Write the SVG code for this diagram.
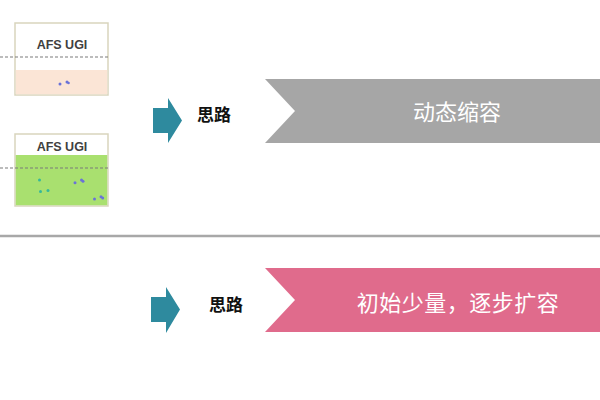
<svg xmlns="http://www.w3.org/2000/svg" width="600" height="400" viewBox="0 0 600 400">
<style>
.box{fill:#ffffff;stroke:#d9d5bd;stroke-width:1.5}
.dash{stroke:#7a7a7a;stroke-width:1.2;stroke-dasharray:3,2}
.lbl{font-family:"Liberation Sans","Noto Sans CJK SC",sans-serif;font-size:12.5px;font-weight:bold;fill:#404040;text-anchor:middle}
.think{font-family:"Noto Sans CJK SC",sans-serif;font-size:17px;font-weight:bold;fill:#111111;text-anchor:middle}
.ban{font-family:"Noto Sans CJK SC",sans-serif;font-size:22px;fill:#ffffff;text-anchor:middle}
.arr{fill:#2e8a9e}
.dg{fill:#36b89a}
.db{fill:#6a72d8}
</style>
<g id="box1">
<rect class="box" x="15" y="23" width="93" height="72"/>
<rect x="15.75" y="70" width="91.5" height="24.25" fill="#fbe5d6"/>
<line class="dash" x1="0" y1="57" x2="108" y2="57"/>
<text class="lbl" x="62" y="49">AFS UGI</text>
<circle class="db" cx="60" cy="84" r="1.5"/>
<circle class="db" cx="67" cy="82" r="1.5"/>
<circle class="db" cx="68.5" cy="83" r="1.3"/>
</g>
<g id="box2">
<rect class="box" x="15" y="134" width="93" height="72"/>
<rect x="15.75" y="155" width="91.5" height="50.25" fill="#a9e06f"/>
<line class="dash" x1="0" y1="168" x2="108" y2="168"/>
<text class="lbl" x="62" y="151">AFS UGI</text>
<circle class="dg" cx="39.5" cy="180" r="1.5"/>
<circle class="dg" cx="40.5" cy="191.5" r="1.5"/>
<circle class="dg" cx="48" cy="190.5" r="1.5"/>
<circle class="db" cx="75" cy="182.7" r="1.5"/>
<circle class="db" cx="81.5" cy="180" r="1.5"/>
<circle class="db" cx="83" cy="181.3" r="1.5"/>
<circle class="db" cx="94.5" cy="199" r="1.5"/>
<circle class="db" cx="101" cy="196.7" r="1.5"/>
<circle class="db" cx="102.7" cy="198" r="1.5"/>
</g>
<g id="connectors">
<path class="arr" d="M153,108 H168 V98 L182,120.5 L168,143 V133 H153 Z"/>
<path class="arr" d="M151,297 H166 V287 L180,309.5 L166,333 V322 H151 Z"/>
</g>
<g id="think1"><text class="think" x="214" y="121">思路</text></g>
<g id="think2"><text class="think" x="226" y="311">思路</text></g>
<g id="banner1">
<path d="M265,79 H600 V143 H265 L295,111 Z" fill="#a6a6a6"/>
<text class="ban" x="457" y="119.5">动态缩容</text>
</g>
<g id="banner2">
<path d="M265,268 H600 V332 H265 L295,300 Z" fill="#e06b8c"/>
<text class="ban" x="458" y="310.5" letter-spacing="0.5">初始少量，逐步扩容</text>
</g>
<line x1="0" y1="236" x2="600" y2="236" stroke="#a8a8a8" stroke-width="2.5"/>
</svg>
